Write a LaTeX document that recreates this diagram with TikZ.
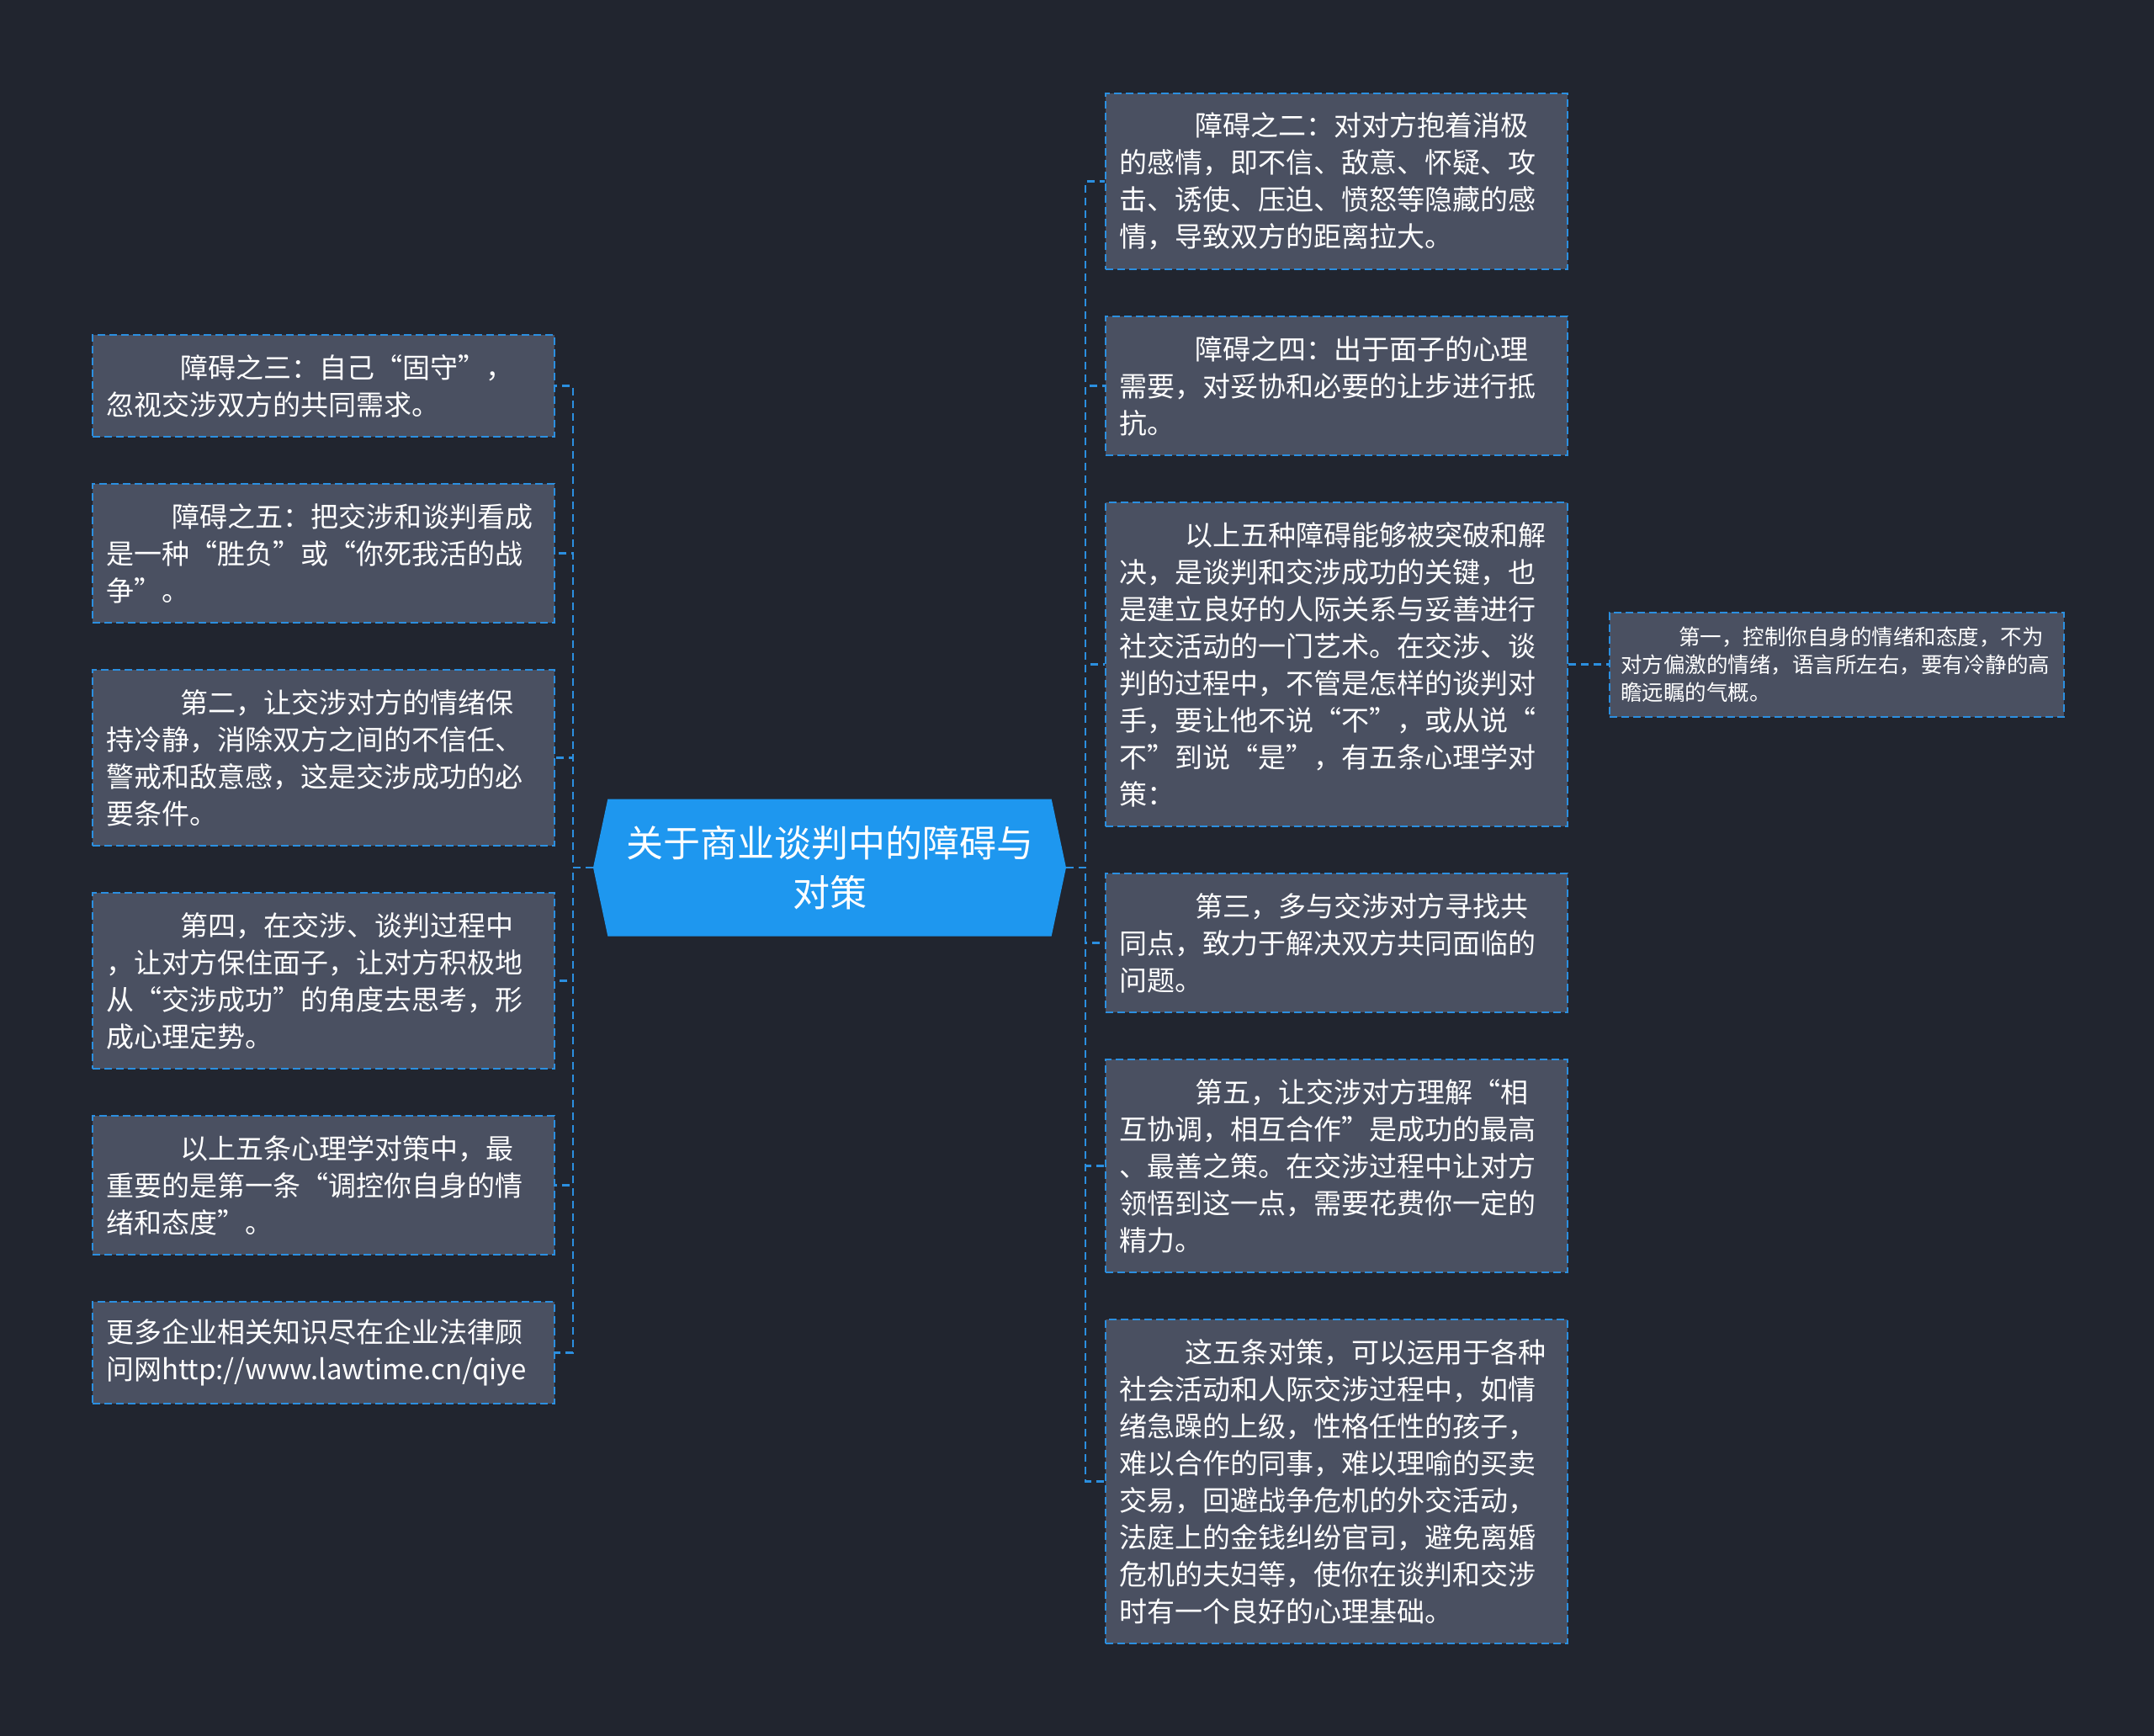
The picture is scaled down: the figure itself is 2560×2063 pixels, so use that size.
\documentclass[tikz,border=0pt]{standalone}
\usepackage{fontspec}
\newfontfamily\cnfont{Noto Sans CJK SC}
\definecolor{bgnavy}{HTML}{21252F}
\definecolor{boxgray}{HTML}{4A5061}
\definecolor{lineblue}{HTML}{2B8FE0}
\definecolor{hubblue}{HTML}{1E97EF}
\usepackage{tikz}
\usetikzlibrary{positioning, shapes.symbols}

\begin{document}
\begin{tikzpicture}[
    x=1pt, y=-1pt,
    node distance=54pt and 48pt,
    topic/.style={rectangle, draw=lineblue, fill=boxgray, line width=2pt,
                  dash pattern=on 9pt off 5pt, text=white, align=left,
                  font=\cnfont\fontsize{33}{44}\selectfont,
                  text width=517pt, inner xsep=16pt, inner ysep=2pt,
                  minimum height={44pt*#1+33pt}},
    note/.style={rectangle, draw=lineblue, fill=boxgray, line width=2pt,
                 dash pattern=on 9pt off 5pt, text=white, align=left,
                 font=\cnfont\fontsize{25.5}{33}\selectfont,
                 text width=514pt, inner xsep=13pt, inner ysep=2pt,
                 minimum height=124pt},
    hub/.style={signal, signal to=west and east, signal pointer angle=156,
                fill=hubblue, text=white, align=center,
                font=\cnfont\fontsize{44}{59}\selectfont,
                minimum width=562pt, minimum height=163pt, inner sep=0pt},
    link/.style={draw=lineblue, line width=2.5pt, dash pattern=on 9pt off 6pt}
  ]
  \fill[bgnavy] (0,0) rectangle (2560,2063);

  \node[hub] (hub) at (986,1031) {关于商业谈判中的障碍与\\对策};

  \node[topic=2, anchor=north west] (l1) at (109,397)
    {\hspace*{88pt}障碍之三：自己“固守”，\\忽视交涉双方的共同需求。};
  \node[topic=3, below=of l1] (l2)
    {\hspace*{78pt}障碍之五：把交涉和谈判看成\\是一种“胜负”或“你死我活的战\\争”。};
  \node[topic=4, below=of l2] (l3)
    {\hspace*{88pt}第二，让交涉对方的情绪保\\持冷静，消除双方之间的不信任、\\警戒和敌意感，这是交涉成功的必\\要条件。};
  \node[topic=4, below=of l3] (l4)
    {\hspace*{88pt}第四，在交涉、谈判过程中\\，让对方保住面子，让对方积极地\\从“交涉成功”的角度去思考，形\\成心理定势。};
  \node[topic=3, below=of l4] (l5)
    {\hspace*{88pt}以上五条心理学对策中，最\\重要的是第一条“调控你自身的情\\绪和态度”。};
  \node[topic=2, below=of l5] (l6)
    {更多企业相关知识尽在企业法律顾\\问网http://www.lawtime.cn/qiye};

  \node[topic=4, anchor=north west] (r1) at (1313,110)
    {\hspace*{90pt}障碍之二：对对方抱着消极\\的感情，即不信、敌意、怀疑、攻\\击、诱使、压迫、愤怒等隐藏的感\\情，导致双方的距离拉大。};
  \node[topic=3, below=of r1] (r2)
    {\hspace*{90pt}障碍之四：出于面子的心理\\需要，对妥协和必要的让步进行抵\\抗。};
  \node[topic=8, below=of r2] (r3)
    {\hspace*{78pt}以上五种障碍能够被突破和解\\决，是谈判和交涉成功的关键，也\\是建立良好的人际关系与妥善进行\\社交活动的一门艺术。在交涉、谈\\判的过程中，不管是怎样的谈判对\\手，要让他不说“不”，或从说“\\不”到说“是”，有五条心理学对\\策：};
  \node[topic=3, below=of r3] (r4)
    {\hspace*{90pt}第三，多与交涉对方寻找共\\同点，致力于解决双方共同面临的\\问题。};
  \node[topic=5, below=of r4] (r5)
    {\hspace*{90pt}第五，让交涉对方理解“相\\互协调，相互合作”是成功的最高\\、最善之策。在交涉过程中让对方\\领悟到这一点，需要花费你一定的\\精力。};
  \node[topic=8, below=of r5] (r6)
    {\hspace*{78pt}这五条对策，可以运用于各种\\社会活动和人际交涉过程中，如情\\绪急躁的上级，性格任性的孩子，\\难以合作的同事，难以理喻的买卖\\交易，回避战争危机的外交活动，\\法庭上的金钱纠纷官司，避免离婚\\危机的夫妇等，使你在谈判和交涉\\时有一个良好的心理基础。};

  \node[note, right=of r3] (r7)
    {\hspace*{69pt}第一，控制你自身的情绪和态度，不为\\对方偏激的情绪，语言所左右，要有冷静的高\\瞻远瞩的气概。};

  \foreach \n in {l1,l2,l3,l4,l5,l6}
    \draw[link] (hub.west) -- ++(-24,0) |- (\n.east);
  \foreach \n in {r1,r2,r3,r4,r5,r6}
    \draw[link] (hub.east) -- ++(23,0) |- (\n.west);
  \draw[link] (r3) -- (r7);
\end{tikzpicture}
\end{document}
